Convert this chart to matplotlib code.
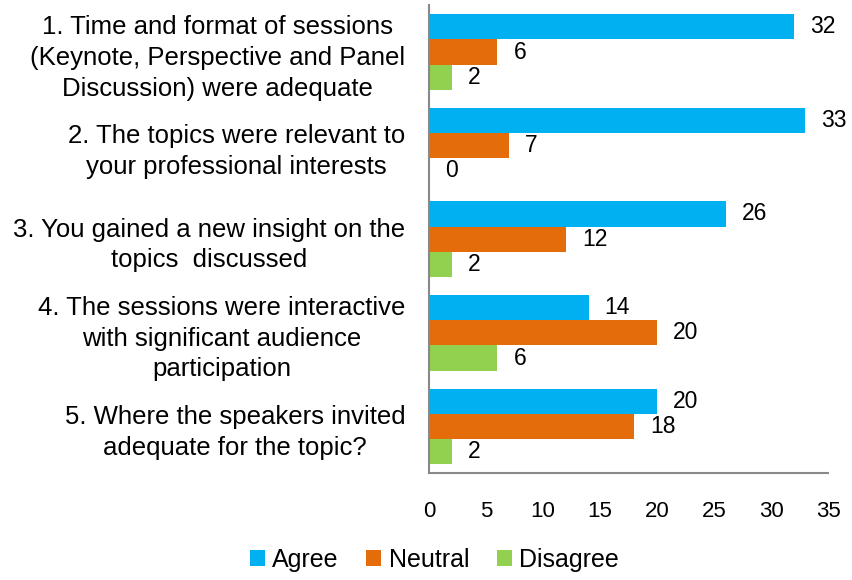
import matplotlib.pyplot as plt
import numpy as np

questions = [
    "1. Time and format of sessions\n(Keynote, Perspective and Panel\nDiscussion) were adequate",
    "2. The topics were relevant to\nyour professional interests",
    "3. You gained a new insight on the\ntopics  discussed",
    "4. The sessions were interactive\nwith significant audience\nparticipation",
    "5. Where the speakers invited\nadequate for the topic?",
]
agree = [32, 33, 26, 14, 20]
neutral = [6, 7, 12, 20, 18]
disagree = [2, 0, 2, 6, 2]

series = [("Agree", agree, "#00B0F0"),
          ("Neutral", neutral, "#E46C0A"),
          ("Disagree", disagree, "#92D050")]

plt.rcParams['font.family'] = ['Liberation Sans', 'DejaVu Sans']

fig = plt.figure(figsize=(8.52, 5.8), dpi=100)
ax = fig.add_axes([0.5035, 0.184, 0.4685, 0.807])

y = np.arange(len(questions))
h = 0.27
for k, (name, vals, col) in enumerate(series):
    pos = y + (k - 1) * h
    ax.barh(pos, vals, height=h, color=col, label=name)
    for p, v in zip(pos, vals):
        ax.text(v + 1.4, p, str(v), va='center', ha='left', fontsize=16.5)

ax.set_xlim(0, 35)
ax.set_ylim(len(questions) - 0.5, -0.5)
ax.set_xticks(range(0, 36, 5))
ax.set_yticks(y)
ax.set_yticklabels(questions, multialignment='center', fontsize=18.5, linespacing=1.35)
ax.tick_params(axis='both', length=0)
ax.tick_params(axis='x', pad=20, labelsize=16)
ax.tick_params(axis='y', pad=17)

for s in ['top', 'right']:
    ax.spines[s].set_visible(False)
for s in ['left', 'bottom']:
    ax.spines[s].set_color('#898989')
    ax.spines[s].set_linewidth(1.5)

fig.legend(loc='lower center', bbox_to_anchor=(0.51, -0.025), ncol=3, frameon=False,
           fontsize=18, handlelength=0.6, handleheight=0.6, handletextpad=0.3,
           columnspacing=1.1)

fig.savefig("out.png", dpi=100)
